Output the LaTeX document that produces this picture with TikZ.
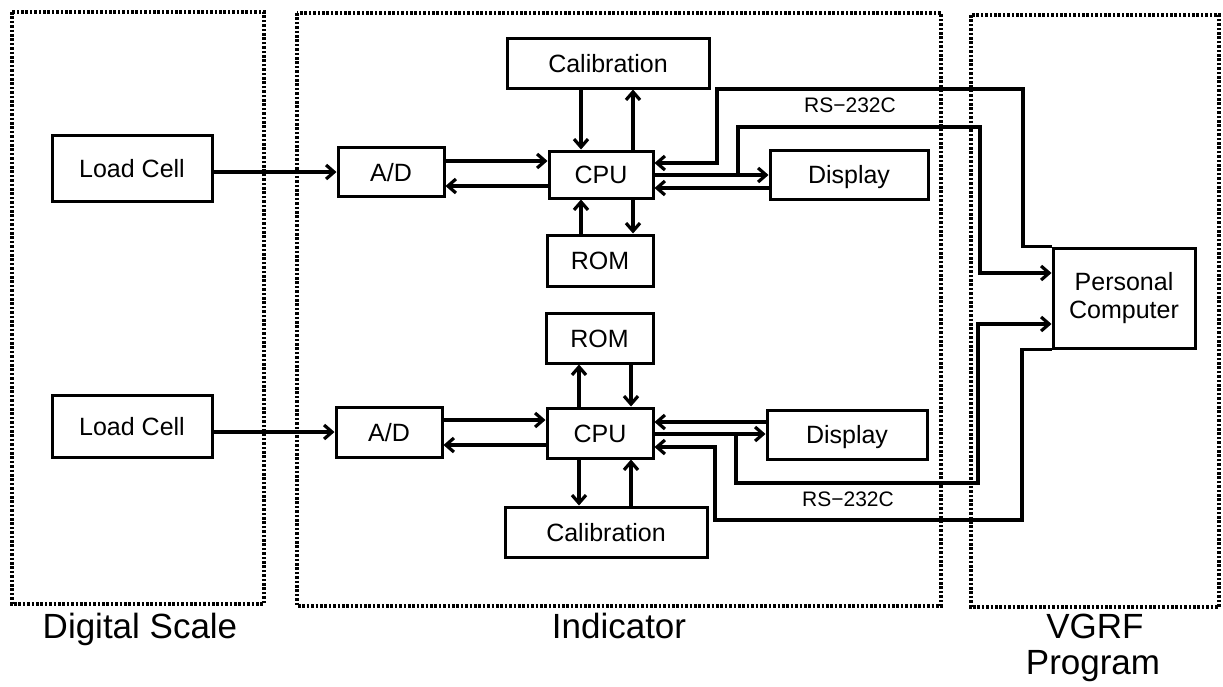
\documentclass[tikz,border=0pt]{standalone}
\usepackage{fontspec}
\setmainfont{Liberation Sans}
\usetikzlibrary{arrows.meta}
\begin{document}
\begin{tikzpicture}[x=1pt,y=-1pt,
  blk/.style={draw, line width=3pt, inner sep=0pt, font=\fontsize{25}{28}\selectfont, text height=18pt, text depth=0pt},
  pcblk/.style={draw, line width=3pt, inner sep=0pt, font=\fontsize{25}{28}\selectfont, align=center},
  grp/.style={draw, line width=3.4pt, dash pattern=on 2.6pt off 1.8pt},
  arr/.style={line width=3.2pt, -{Straight Barb[length=8pt,width=14pt]}},
  lab/.style={font=\fontsize{35}{40}\selectfont, anchor=base},
  rs/.style={font=\fontsize{21}{24}\selectfont}]
\useasboundingbox (0,0) rectangle (1223,686);

% group frames
\draw[grp] (12,12) rectangle (264,604);
\draw[grp] (297,13) rectangle (941,606);
\draw[grp] (971,15) rectangle (1219,607);
\node[lab] (dsl) at (140,638) {Digital Scale};
\node[lab] (indl) at (619,638) {Indicator};
\node[lab] (vgl) at (1095,638) {VGRF};
\node[lab] (prl) at (1093,674) {Program};

% personal computer
\node[pcblk, minimum width=142pt, minimum height=100pt] (pc) at (1124,298) {Personal\\Computer};

% upper channel
\node[blk, minimum width=160pt, minimum height=66pt] (lc1) at (132,168) {Load Cell};
\node[blk, minimum width=106pt, minimum height=49pt] (ad1) at (391,172) {A/D};
\node[blk, minimum width=104pt, minimum height=47pt] (cpu1) at (601,174.5) {CPU};
\node[blk, minimum width=202pt, minimum height=50pt] (cal1) at (608,63) {Calibration};
\node[blk, minimum width=106pt, minimum height=51pt] (rom1) at (600,260.5) {ROM};
\node[blk, minimum width=158pt, minimum height=49pt] (dis1) at (849,174.5) {Display};
\node[rs] (rs1) at (850,105) {RS−232C};

\draw[arr] (lc1.east |- ad1.west) -- (ad1.west);
\draw[arr] (ad1.east |- 0,161) -- (cpu1.west |- 0,161);
\draw[arr] (cpu1.west |- 0,186) -- (ad1.east |- 0,186);
\draw[arr] (cal1.south -| 581,0) -- (cpu1.north -| 581,0);
\draw[arr] (cpu1.north -| 633,0) -- (cal1.south -| 633,0);
\draw[arr] (rom1.north -| 581,0) -- (cpu1.south -| 581,0);
\draw[arr] (cpu1.south -| 633,0) -- (rom1.north -| 633,0);
\draw[arr] (cpu1.east |- 0,175) -- (dis1.west |- 0,175);
\draw[arr] (dis1.west |- 0,188) -- (cpu1.east |- 0,188);
\draw[arr] (pc.north west) -| (1023,89) -| (717,163) -- (cpu1.east |- 0,163);
\draw[arr] (cpu1.east |- 0,175) -| (738,127) -| (980,273) -- (pc.west |- 0,273);

% lower channel
\node[blk, minimum width=160pt, minimum height=62pt] (lc2) at (132,426) {Load Cell};
\node[blk, minimum width=106pt, minimum height=50pt] (ad2) at (389,432) {A/D};
\node[blk, minimum width=106pt, minimum height=50pt] (cpu2) at (600,433) {CPU};
\node[blk, minimum width=107pt, minimum height=50pt] (rom2) at (599.5,338) {ROM};
\node[blk, minimum width=202pt, minimum height=50pt] (cal2) at (606,532) {Calibration};
\node[blk, minimum width=160pt, minimum height=49pt] (dis2) at (847,434.5) {Display};
\node[rs] (rs2) at (848,499) {RS−232C};

\draw[arr] (lc2.east |- ad2.west) -- (ad2.west);
\draw[arr] (ad2.east |- 0,420) -- (cpu2.west |- 0,420);
\draw[arr] (cpu2.west |- 0,445) -- (ad2.east |- 0,445);
\draw[arr] (cpu2.north -| 579,0) -- (rom2.south -| 579,0);
\draw[arr] (rom2.south -| 631,0) -- (cpu2.north -| 631,0);
\draw[arr] (cpu2.south -| 579,0) -- (cal2.north -| 579,0);
\draw[arr] (cal2.north -| 631,0) -- (cpu2.south -| 631,0);
\draw[arr] (dis2.west |- 0,422) -- (cpu2.east |- 0,422);
\draw[arr] (cpu2.east |- 0,434) -- (dis2.west |- 0,434);
\draw[arr] (cpu2.east |- 0,434) -| (736,483) -| (978,324) -- (pc.west |- 0,324);
\draw[arr] (pc.south west) -| (1022,520) -| (715,447) -- (cpu2.east |- 0,447);
\end{tikzpicture}
\end{document}
